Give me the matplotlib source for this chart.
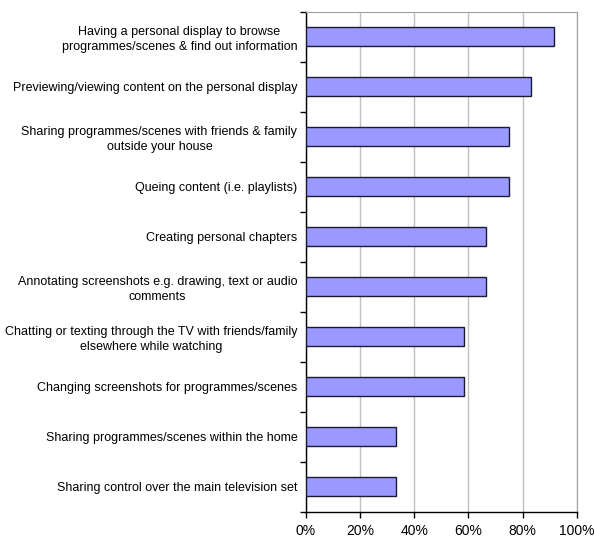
import numpy as np
import matplotlib
matplotlib.use("Agg")
from matplotlib import pyplot as plt
from matplotlib.ticker import FixedLocator, PercentFormatter

plt.rcParams['font.family'] = ['Liberation Sans', 'DejaVu Sans']

# categories, top to bottom
labels = [
    "Having a personal display to browse\nprogrammes/scenes & find out information",
    "Previewing/viewing content on the personal display",
    "Sharing programmes/scenes with friends & family\noutside your house",
    "Queing content (i.e. playlists)",
    "Creating personal chapters",
    "Annotating screenshots e.g. drawing, text or audio\ncomments",
    "Chatting or texting through the TV with friends/family\nelsewhere while watching",
    "Changing screenshots for programmes/scenes",
    "Sharing programmes/scenes within the home",
    "Sharing control over the main television set",
]
values = [91.7, 83.3, 75.0, 75.0, 66.7, 66.7, 58.3, 58.3, 33.3, 33.3]
xticks = [0, 20, 40, 60, 80, 100]

fig = plt.figure(figsize=(5.94, 5.39), dpi=100)
ax = fig.add_axes([305.7 / 594, 1 - 511.7 / 539, 271 / 594, 500 / 539])

y = np.arange(len(labels))
ax.barh(y, values, height=0.39, color='#9999FF', edgecolor='#1a1a33', linewidth=1.0, zorder=3)

ax.set_xlim(0, 100)
ax.set_ylim(len(labels) - 0.5, -0.5)

# grid
ax.set_xticks(xticks)
ax.xaxis.set_major_formatter(PercentFormatter(decimals=0))
ax.grid(axis='x', color='#c0c0c0', linewidth=1.0, zorder=0)
ax.tick_params(axis='x', direction='out', length=4, width=1, pad=5, labelsize=10)

# y labels at bar centres, tick marks at boundaries
ax.set_yticks(y)
ax.set_yticklabels(labels, fontsize=9, ha='right', multialignment='center', linespacing=1.35)
ax.tick_params(axis='y', which='major', length=0, pad=6)
ax.yaxis.set_minor_locator(FixedLocator(np.arange(len(labels) + 1) - 0.5))
ax.tick_params(axis='y', which='minor', direction='out', length=4, width=1)

for s in ['top', 'right']:
    ax.spines[s].set_color('#a0a0a0')
for s in ['left', 'bottom']:
    ax.spines[s].set_color('black')
    ax.spines[s].set_linewidth(1.0)

fig.savefig('out.png', dpi=100)
